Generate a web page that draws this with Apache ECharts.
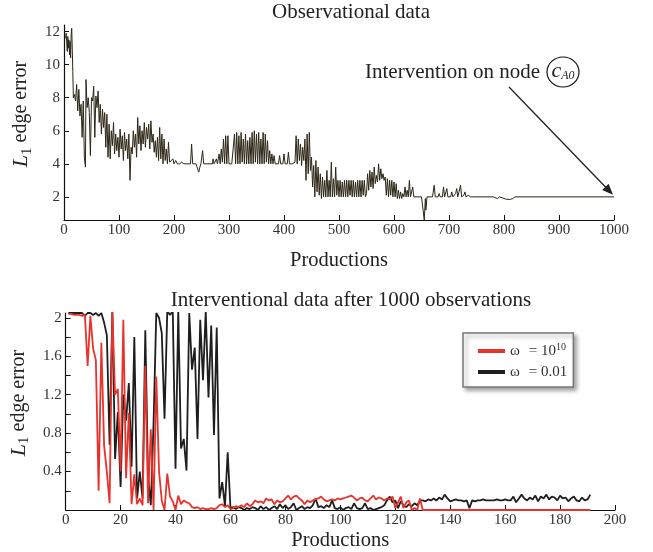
<!DOCTYPE html>
<html>
<head>
<meta charset="utf-8">
<script src="https://cdn.jsdelivr.net/npm/echarts@6/dist/echarts.min.js"></script>
<style>
html,body{margin:0;padding:0;background:#fff}
#main{width:653px;height:552px}
</style>
</head>
<body>
<div id="main"></div>
<script>
// observational run: [production, L1 edge error]
var observational = [
  [3,11.6],[4,11.9],[5,11.3],[6,10.8],[7,11.7],[8,11.0],[9,11.5],[10,10.6],[11,11.4],[12,10.4],
  [13,11.8],[14,12.2],[15,11.0],[16,9.6],[17,8.0],[18,7.9],[19,8.2],[21,7.8],[23,8.8],[25,7.2],
  [27,8.5],[29,6.9],[31,7.6],[33,5.6],[35,7.8],[37,4.4],[39,3.8],[40,9.1],[42,7.4],[44,8.0],
  [46,7.1],[48,4.5],[50,8.0],[52,7.8],[54,8.7],[56,5.6],[58,8.1],[60,7.4],[62,8.4],[64,6.5],
  [66,7.6],[68,5.8],[70,7.3],[72,6.2],[74,7.1],[76,5.0],[78,7.0],[80,4.4],[82,6.4],[84,4.3],
  [86,6.0],[88,5.1],[90,6.5],[92,4.6],[94,5.8],[96,4.8],[98,5.6],[100,4.4],[102,6.1],[104,4.9],
  [106,5.7],[108,4.2],[110,5.9],[112,4.8],[114,5.5],[116,4.3],[118,5.8],[120,3.0],[122,5.0],[124,4.6],
  [126,6.0],[128,5.0],[130,5.8],[132,4.4],[134,6.8],[136,5.2],[138,6.3],[140,4.8],[142,6.0],[144,5.2],
  [146,6.5],[148,5.0],[150,6.2],[152,5.5],[154,6.4],[156,4.9],[158,6.6],[160,5.3],[162,5.8],[164,4.7],
  [166,5.4],[168,4.4],[170,5.6],[172,4.2],[174,6.2],[176,4.3],[178,5.8],[180,4.0],[182,5.5],[184,4.2],
  [186,4.9],[188,4.0],[190,5.3],[192,4.1],[195,4.0],[198,4.3],[200,4.0],[203,4.2],[206,4.0],[210,4.0],
  [214,4.1],[218,4.0],[225,4.0],[230,4.0],[232,5.2],[234,4.0],[240,4.0],[243,3.9],[245,3.5],[247,3.8],
  [249,4.0],[252,4.8],[254,4.0],[260,4.0],[270,4.0],[271,4.3],[273,4.0],[277,4.3],[279,4.0],[282,4.6],
  [284,4.0],[286,4.9],[288,4.1],[290,5.5],[292,4.0],[294,5.7],[296,4.0],[298,5.7],[300,4.0],[302,4.0],
  [305,4.0],[308,4.1],[310,5.8],[312,4.0],[314,5.9],[316,4.0],[318,5.7],[320,4.0],[322,5.9],[324,4.1],
  [326,5.5],[328,4.0],[330,5.8],[332,4.0],[334,5.4],[336,4.0],[338,5.6],[340,4.0],[342,5.9],[344,4.0],
  [346,6.0],[348,4.1],[350,5.8],[352,4.0],[354,5.9],[356,4.0],[358,5.5],[360,4.0],[362,5.9],[364,4.0],
  [366,5.8],[368,4.1],[370,5.4],[372,4.0],[374,4.8],[376,4.0],[378,4.6],[380,4.0],[382,4.5],[384,4.0],
  [386,4.1],[390,4.0],[392,4.5],[394,4.0],[398,4.0],[400,4.6],[402,4.0],[406,4.0],[408,4.7],[410,4.0],
  [415,4.0],[420,4.1],[422,5.7],[424,4.0],[426,5.5],[428,4.2],[430,5.2],[432,3.9],[434,5.0],[436,4.2],
  [438,5.5],[440,3.0],[442,5.8],[444,3.4],[446,5.9],[448,3.6],[450,4.4],[452,2.6],[454,3.9],[456,2.0],
  [458,4.2],[460,2.3],[462,3.8],[464,2.1],[466,3.4],[468,1.9],[470,3.2],[472,2.0],[474,3.0],[476,2.0],
  [478,3.6],[480,2.0],[482,3.0],[484,2.0],[486,4.1],[488,2.0],[490,3.1],[492,2.0],[494,3.8],[496,2.1],
  [498,3.0],[500,2.0],[502,3.0],[504,2.0],[506,2.9],[508,2.0],[510,3.0],[512,2.0],[514,3.0],[516,2.0],
  [518,3.0],[520,2.1],[522,3.0],[524,2.0],[526,3.0],[528,2.0],[530,2.9],[532,2.0],[534,3.0],[536,2.0],
  [538,3.0],[540,2.0],[542,3.0],[544,2.1],[546,3.0],[548,2.0],[550,2.2],[552,3.4],[554,2.4],[556,3.6],
  [558,2.6],[560,3.5],[562,2.5],[564,3.8],[566,2.8],[568,3.3],[570,2.9],[572,4.0],[574,3.0],[576,3.7],
  [578,3.1],[580,3.4],[582,3.0],[584,3.2],[586,2.1],[588,3.1],[590,2.0],[592,3.0],[594,2.1],[596,3.0],
  [598,2.0],[600,2.9],[602,2.0],[604,2.8],[606,1.9],[608,2.4],[610,1.9],[612,2.3],[614,1.9],[616,2.2],
  [618,2.0],[620,2.6],[622,2.0],[624,2.4],[626,2.0],[628,3.0],[630,2.0],[634,2.6],[636,2.0],[640,2.0],
  [650,2.0],[653,1.9],[655,0.6],[657,1.9],[658,1.2],[660,2.0],[670,2.0],[673,2.7],[675,2.0],[680,2.0],
  [682,2.2],[684,2.0],[688,2.0],[690,2.6],[692,2.0],[696,2.5],[698,2.0],[703,2.0],[705,2.3],[707,2.0],
  [712,2.2],[714,2.5],[716,2.0],[719,2.0],[721,2.7],[723,2.0],[727,2.1],[729,2.3],[731,2.0],[735,2.1],
  [737,2.2],[739,2.0],[745,2.0],[780,2.0],[788,1.9],[790,1.8],[792,2.0],[800,1.9],[805,1.85],[808,1.95],
  [812,1.85],[816,1.9],[820,2.0],[1000,2.0]
];

// interventional runs, productions 1..191
var omegaBig = [
  2.04,2.04,2.03,2.03,2.03,2.02,2.03,1.5,2.02,1.68,
  1.56,0.2,1.74,0.67,0.4,0.07,2.07,1.2,1.26,0.4,
  1.98,0.33,1.01,0.06,0.37,0.06,0.12,0.05,1.5,0.07,
  0.84,0.0,1.39,0.4,0.1,0.0,0.38,0.14,0.09,0.0,
  0.15,0.06,0.1,0.08,0.07,0.03,0.02,0.03,0.01,0.02,
  0.01,0.01,0.02,0.01,0.02,0.05,0.06,0.03,0.05,0.01,
  0.02,0.04,0.03,0.05,0.03,0.07,0.04,0.06,0.1,0.08,
  0.09,0.07,0.12,0.1,0.11,0.06,0.1,0.08,0.09,0.12,
  0.15,0.11,0.14,0.15,0.12,0.1,0.06,0.1,0.08,0.1,
  0.11,0.12,0.14,0.11,0.09,0.1,0.11,0.1,0.12,0.11,
  0.12,0.13,0.14,0.15,0.13,0.1,0.12,0.13,0.1,0.09,
  0.12,0.15,0.11,0.13,0.12,0.1,0.12,0.11,0.14,0.02,
  0.08,0.14,0.02,0.08,0.1,0.0,0.02,0.0,0.12,0.0,
  0,0,0,0,0,0,0,0,0,0,
  0,0,0,0,0,0,0,0,0,0,
  0,0,0,0,0,0,0,0,0,0,
  0,0,0,0,0,0,0,0,0,0,
  0,0,0,0,0,0,0,0,0,0,
  0,0,0,0,0,0,0,0,0,0,
  0
];
var omegaSmall = [
  2.05,2.05,2.05,2.05,2.05,2.05,2.02,2.05,2.05,2.03,
  2.05,2.02,2.05,1.95,1.82,0.68,2.07,0.53,1.02,0.24,
  1.2,0.93,1.32,0.45,1.8,0.12,0.4,0.12,1.87,0.35,
  0.05,0.9,2.05,2.0,1.84,0.95,2.07,2.03,2.07,0.43,
  2.07,0.64,0.74,0.41,2.05,1.46,1.69,0.74,1.98,1.35,
  2.07,1.17,1.92,0.78,1.9,0.12,0.29,0.04,0.6,0.02,
  0.03,0.01,0.03,0.02,0.0,0.02,0.01,0.03,0.02,0.0,
  0.04,0.01,0.03,0.0,0.02,0.04,0.01,0.06,0.02,0.05,
  0.01,0.03,0.07,0.0,0.02,0.04,0.01,0.03,0.02,0.05,
  0.12,0.03,0.04,0.02,0.05,0.03,0.1,0.02,0.01,0.03,
  0.0,0.02,0.03,0.01,0.07,0.02,0.01,0.02,0.07,0.01,
  0.02,0.0,0.01,0.02,0.03,0.05,0.1,0.14,0.08,0.1,
  0.02,0.09,0.05,0.03,0.06,0.04,0.07,0.05,0.1,0.1,
  0.09,0.11,0.1,0.12,0.1,0.13,0.11,0.16,0.12,0.09,
  0.1,0.11,0.1,0.1,0.09,0.1,0.02,0.1,0.09,0.1,
  0.1,0.11,0.1,0.1,0.1,0.1,0.11,0.1,0.1,0.11,
  0.1,0.1,0.14,0.08,0.12,0.16,0.12,0.1,0.13,0.11,
  0.15,0.09,0.14,0.12,0.16,0.11,0.14,0.13,0.1,0.15,
  0.12,0.13,0.09,0.12,0.14,0.1,0.09,0.13,0.1,0.11,
  0.16
];

var topTicks = [2, 4, 6, 8, 10, 12];
var bottomTicks = [0.2, 0.4, 0.6, 0.8, 1.0, 1.2, 1.4, 1.6, 1.8, 2.0];
var bottomLabels = [0.4, 0.8, 1.2, 1.6, 2.0];

var FONT = 'Liberation Serif';
var INK = '#222';

function withIndex(arr) {
  return arr.map(function (v, i) { return [i + 1, v]; });
}

var yNameRich = {
  l: {fontFamily: FONT, fontStyle: 'italic', fontSize: 22, color: INK, lineHeight: 26},
  s: {fontFamily: FONT, fontSize: 15, color: INK, lineHeight: 15, verticalAlign: 'bottom'},
  t: {fontFamily: FONT, fontSize: 20, color: INK, lineHeight: 26}
};

function xAxisBase(grid, max, step, gap) {
  return {
    gridIndex: grid, type: 'value', min: 0, max: max, interval: step,
    name: 'Productions', nameLocation: 'middle', nameGap: gap,
    nameTextStyle: {fontFamily: FONT, fontSize: 20.5, color: INK},
    axisLine: {onZero: false, lineStyle: {color: '#111', width: 1.2}},
    axisTick: {inside: true, length: 5, lineStyle: {color: '#111'}},
    axisLabel: {
      fontFamily: FONT, fontSize: 15, color: '#333', margin: 3,
      formatter: function (v) { return String(v); }
    },
    splitLine: {show: false}
  };
}

function yAxisBase(grid, min, max, ticks, labels) {
  return {
    gridIndex: grid, type: 'value', min: min, max: max,
    name: '{l|L}{s|1}{t| edge error}', nameLocation: 'middle', nameGap: 28,
    nameTextStyle: {rich: yNameRich, padding: [0, 0, 0, 17]},
    axisLine: {onZero: false, lineStyle: {color: '#111', width: 1.2}},
    axisTick: {inside: true, length: 5, customValues: ticks, lineStyle: {color: '#111'}},
    axisLabel: {
      fontFamily: FONT, fontSize: 15, color: '#333', margin: 4, customValues: labels,
      formatter: function (v) { return String(+(+v).toFixed(1)); }
    },
    splitLine: {show: false}
  };
}

var chart = echarts.init(document.getElementById('main'));

var option = {
  animation: false,
  backgroundColor: '#fff',
  grid: [
    {left: 64, top: 25, width: 550, height: 195},
    {left: 63, top: 313, width: 552, height: 199}
  ],
  xAxis: [
    xAxisBase(0, 1000, 100, 30),
    xAxisBase(1, 200, 20, 20)
  ],
  yAxis: [
    yAxisBase(0, 0.6, 12.4, topTicks, topTicks),
    yAxisBase(1, 0, 2.05, bottomTicks, bottomLabels)
  ],
  legend: {
    data: ['ω = 10^10', 'ω = 0.01'],
    orient: 'vertical', left: 463, top: 333,
    icon: 'rect', itemWidth: 27, itemHeight: 4, itemGap: 3,
    padding: [9, 6, 6, 15],
    backgroundColor: '#fff', borderColor: '#777', borderWidth: 1.5, borderRadius: 0,
    shadowColor: 'rgba(0,0,0,0.35)', shadowBlur: 4, shadowOffsetX: 3, shadowOffsetY: 3,
    textStyle: {
      fontFamily: FONT, fontSize: 15, color: '#333', lineHeight: 18,
      rich: {
        w: {fontFamily: FONT, fontSize: 15, color: '#333', lineHeight: 18},
        sp: {width: 9},
        n: {fontFamily: FONT, fontSize: 15, color: '#333', lineHeight: 18},
        p: {fontFamily: FONT, fontSize: 10, color: '#333', lineHeight: 18, verticalAlign: 'top'}
      }
    },
    formatter: function (name) {
      if (name === 'ω = 10^10') return '{w|ω}{sp|}{n|= 10}{p|10}';
      return '{w|ω}{sp|}{n|= 0.01}';
    }
  },
  series: [
    {
      name: 'observational', type: 'line', xAxisIndex: 0, yAxisIndex: 0,
      data: observational, showSymbol: false, silent: true,
      lineStyle: {color: '#2d2616', width: 1}, itemStyle: {color: '#2d2616'}
    },
    {
      name: 'ω = 0.01', type: 'line', xAxisIndex: 1, yAxisIndex: 1,
      data: withIndex(omegaSmall), showSymbol: false,
      lineStyle: {color: '#1e1e1e', width: 1.8}, itemStyle: {color: '#1e1e1e'}
    },
    {
      name: 'ω = 10^10', type: 'line', xAxisIndex: 1, yAxisIndex: 1,
      data: withIndex(omegaBig), showSymbol: false,
      lineStyle: {color: '#e8332c', width: 1.8}, itemStyle: {color: '#e8332c'}
    }
  ]
};
chart.setOption(option);

// titles and the intervention annotation
var tip = chart.convertToPixel({gridIndex: 0}, [1000, 2]);
var tail = [509, 87];
var hx = tip[0] - 1, hy = tip[1] - 2, hl = 11, hw = 4.5;
var ang = Math.atan2(hy - tail[1], hx - tail[0]);
var head = [
  [hx, hy],
  [hx - hl * Math.cos(ang) + hw * Math.sin(ang), hy - hl * Math.sin(ang) - hw * Math.cos(ang)],
  [hx - hl * Math.cos(ang) - hw * Math.sin(ang), hy - hl * Math.sin(ang) + hw * Math.cos(ang)]
];

chart.setOption({
  graphic: [
    {type: 'text', x: 351, y: 12, style: {text: 'Observational data', font: '21px "Liberation Serif"', fill: INK, align: 'center', verticalAlign: 'middle'}},
    {type: 'text', x: 351, y: 300, style: {text: 'Interventional data after 1000 observations', font: '21px "Liberation Serif"', fill: INK, align: 'center', verticalAlign: 'middle'}},
    {type: 'text', x: 365, y: 72, style: {text: 'Intervention on node', font: '21px "Liberation Serif"', fill: INK, align: 'left', verticalAlign: 'middle'}},
    {type: 'ellipse', shape: {cx: 563, cy: 72, rx: 16, ry: 15}, style: {fill: 'none', stroke: '#111', lineWidth: 1.2}},
    {type: 'text', x: 563, y: 71, style: {
      text: '{c|c}{a|A0}', align: 'center', verticalAlign: 'middle',
      rich: {
        c: {fontFamily: FONT, fontStyle: 'italic', fontSize: 22, fill: INK, lineHeight: 22},
        a: {fontFamily: FONT, fontStyle: 'italic', fontSize: 12, fill: INK, lineHeight: 14, verticalAlign: 'bottom'}
      }
    }},
    {type: 'line', shape: {x1: tail[0], y1: tail[1], x2: hx - 6 * Math.cos(ang), y2: hy - 6 * Math.sin(ang)}, style: {stroke: '#222', lineWidth: 1.3}},
    {type: 'polygon', shape: {points: head}, style: {fill: '#222'}}
  ]
});
</script>
</body>
</html>
